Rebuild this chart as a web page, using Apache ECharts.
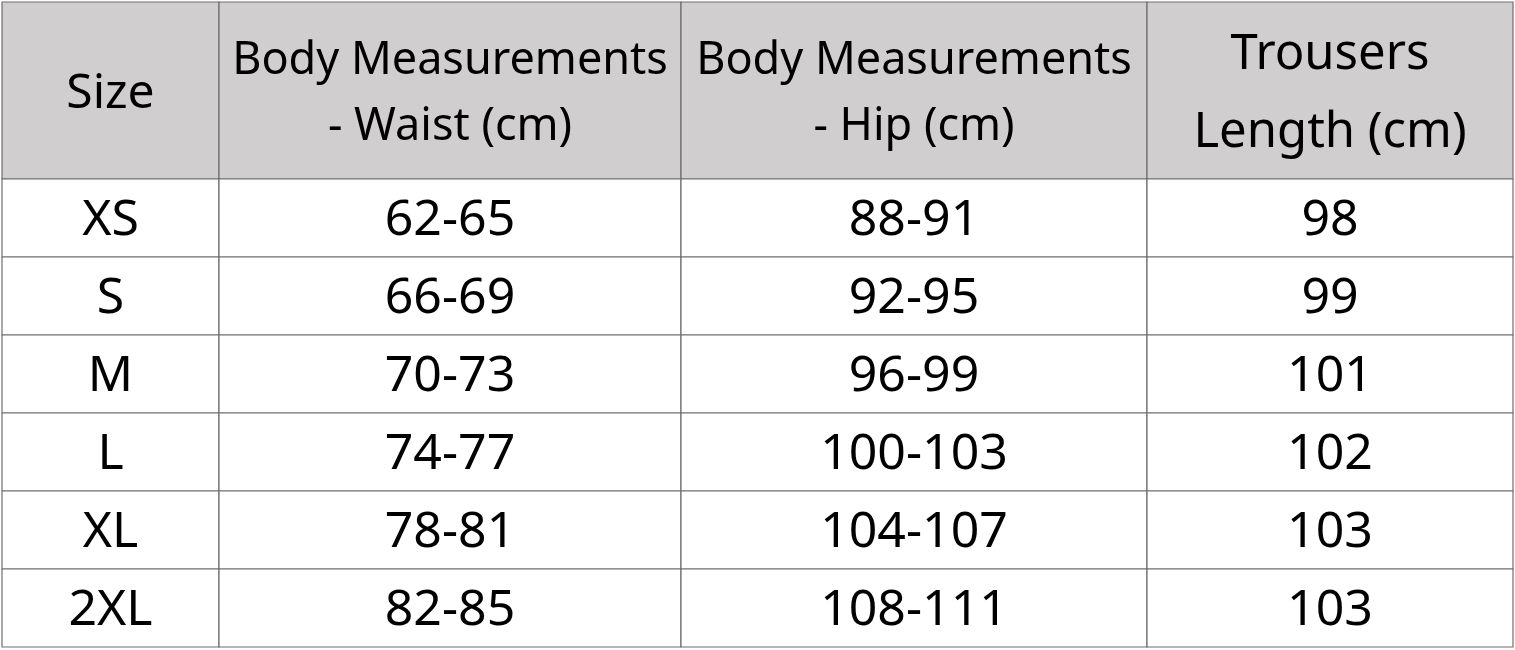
<!DOCTYPE html>
<html><head><meta charset="utf-8">
<script src="https://cdn.jsdelivr.net/npm/echarts@6/dist/echarts.min.js"></script>
<style>html,body{margin:0;padding:0;background:#fff}#c{width:1515px;height:650px}</style>
</head><body><div id="c"></div>
<script>
const headers = ['Size', 'Body Measurements\n- Waist (cm)', 'Body Measurements\n- Hip (cm)', 'Trousers\nLength (cm)'];
const sizes = ['XS', 'S', 'M', 'L', 'XL', '2XL'];
const waist = ['62-65', '66-69', '70-73', '74-77', '78-81', '82-85'];
const hip = ['88-91', '92-95', '96-99', '100-103', '104-107', '108-111'];
const length = ['98', '99', '101', '102', '103', '103'];

// layout (not data)
const colEdges = [0, 217, 679, 1145, 1511];
const rowEdges = [0, 177, 255, 333, 411, 489, 567, 645];
const headerFont = [48, 45, 45, 49];

const cells = [];
headers.forEach((h, c) => cells.push([c, 0, h]));
const cols = [sizes, waist, hip, length];
for (let r = 0; r < sizes.length; r++) {
  cols.forEach((col, c) => cells.push([c, r + 1, col[r]]));
}

const chart = echarts.init(document.getElementById('c'));
chart.setOption({
  animation: false,
  grid: { left: 2, top: 2, width: 1511, height: 645 },
  xAxis: { type: 'value', min: 0, max: 1511, show: false },
  yAxis: { type: 'value', min: 0, max: 645, inverse: true, show: false },
  series: [{
    type: 'custom',
    data: cells,
    renderItem: function (params, api) {
      const c = api.value(0), r = api.value(1);
      const text = cells[params.dataIndex][2];
      const p0 = api.coord([colEdges[c], rowEdges[r]]);
      const p1 = api.coord([colEdges[c + 1], rowEdges[r + 1]]);
      const header = r === 0;
      return {
        type: 'group',
        children: [{
          type: 'rect',
          shape: { x: p0[0], y: p0[1], width: p1[0] - p0[0], height: p1[1] - p0[1] },
          style: { fill: header ? '#d0cece' : '#ffffff', stroke: '#6e6e6e', lineWidth: 1.2 }
        }, {
          type: 'text',
          style: {
            x: (p0[0] + p1[0]) / 2, y: (p0[1] + p1[1]) / 2 + (header ? 4 : 3),
            text: text, align: 'center', verticalAlign: 'middle',
            fontFamily: 'Noto Sans', fontSize: header ? headerFont[c] : 50,
            lineHeight: c === 3 && header ? 78 : 66, fill: '#000'
          }
        }]
      };
    }
  }]
});
</script></body></html>
